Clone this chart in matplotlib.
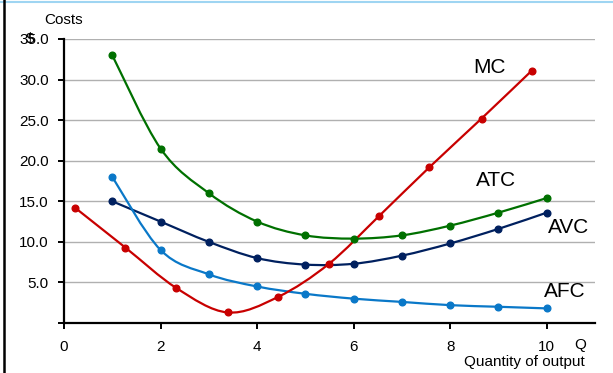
import matplotlib
matplotlib.use("Agg")
import matplotlib.pyplot as plt
from matplotlib.path import Path
from matplotlib.patches import PathPatch
from matplotlib.lines import Line2D
import numpy as np

plt.rcParams['font.family'] = ['Liberation Sans', 'DejaVu Sans']

# Data
q = [1, 2, 3, 4, 5, 6, 7, 8, 9, 10]
atc = [33.0, 21.5, 16.0, 12.5, 10.8, 10.4, 10.8, 12.0, 13.6, 15.4]
avc = [15.0, 12.5, 10.0, 8.0, 7.2, 7.3, 8.3, 9.8, 11.6, 13.6]
afc = [18.0, 9.0, 6.0, 4.5, 3.6, 3.0, 2.6, 2.2, 2.0, 1.8]
mc_q = [0.23, 1.27, 2.33, 3.39, 4.43, 5.49, 6.53, 7.57, 8.65, 9.69]
mc = [14.2, 9.3, 4.3, 1.3, 3.2, 7.3, 13.2, 19.2, 25.2, 31.1]
yticks = [5, 10, 15, 20, 25, 30, 35]
xticks = [0, 2, 4, 6, 8, 10]

colors = {'MC': '#C80000', 'ATC': '#007000', 'AVC': '#00205F', 'AFC': '#0A78C8'}

fig = plt.figure(figsize=(6.13, 3.73), dpi=100)
ax = fig.add_axes([64/613, 1-323/373, (595-64)/613, (323-39)/373])


def smooth(ax, xs, ys, color):
    P = np.column_stack([xs, ys]).astype(float)
    n = len(P)
    verts = [P[0]]
    codes = [Path.MOVETO]
    for i in range(n - 1):
        p0 = P[i - 1] if i > 0 else P[i]
        p1 = P[i]
        p2 = P[i + 1]
        p3 = P[i + 2] if i + 2 < n else P[i + 1]
        c1 = p1 + (p2 - p0) / 6.0
        c2 = p2 - (p3 - p1) / 6.0
        verts += [c1, c2, p2]
        codes += [Path.CURVE4] * 3
    patch = PathPatch(Path(verts, codes), fill=False, edgecolor=color, lw=1.6,
                      transform=ax.transData, zorder=3)
    ax.add_patch(patch)
    ax.plot(xs, ys, 'o', color=color, ms=4.8, zorder=4)


smooth(ax, q, atc, colors['ATC'])
smooth(ax, q, avc, colors['AVC'])
smooth(ax, q, afc, colors['AFC'])
smooth(ax, mc_q, mc, colors['MC'])

ax.set_xlim(0, 11)
ax.set_ylim(0, 35)
ax.set_yticks([0] + yticks)
ax.set_yticklabels([''] + ['%.1f' % v for v in yticks])
ax.set_xticks(xticks)
ax.set_xticklabels([str(v) for v in xticks])
ax.grid(axis='y', color='#B0B0B0', lw=1.0, zorder=0)
ax.set_axisbelow(True)
for s in ['top', 'right']:
    ax.spines[s].set_visible(False)
for s in ['left', 'bottom']:
    ax.spines[s].set_linewidth(1.6)
ax.tick_params(axis='y', length=4, width=1.4, pad=7, labelsize=11, colors='black')
ax.tick_params(axis='x', length=4, width=1.4, pad=8, labelsize=11)

ax.text(8.81, 31.5, 'MC', fontsize=15, ha='center', va='center')
ax.text(8.94, 17.6, 'ATC', fontsize=15, ha='center', va='center')
ax.text(10.46, 11.8, 'AVC', fontsize=15, ha='center', va='center')
ax.text(10.37, 3.9, 'AFC', fontsize=15, ha='center', va='center')

fig.text(64/613, 1-20/373, 'Costs', fontsize=11, ha='center', va='center')
fig.text(30/613, 1-39/373, '$', fontsize=11, ha='center', va='center')
fig.text(580/613, 1-345/373, 'Q', fontsize=11, ha='center', va='center')
fig.text(585/613, 1-362/373, 'Quantity of output', fontsize=11, ha='right', va='center')

fig.add_artist(Line2D([0, 1], [1-1.5/373, 1-1.5/373], color='#9FD5F2', lw=1.5))
fig.add_artist(Line2D([4/613, 4/613], [0, 1], color='black', lw=1.8))

fig.savefig('out.png', dpi=100)
